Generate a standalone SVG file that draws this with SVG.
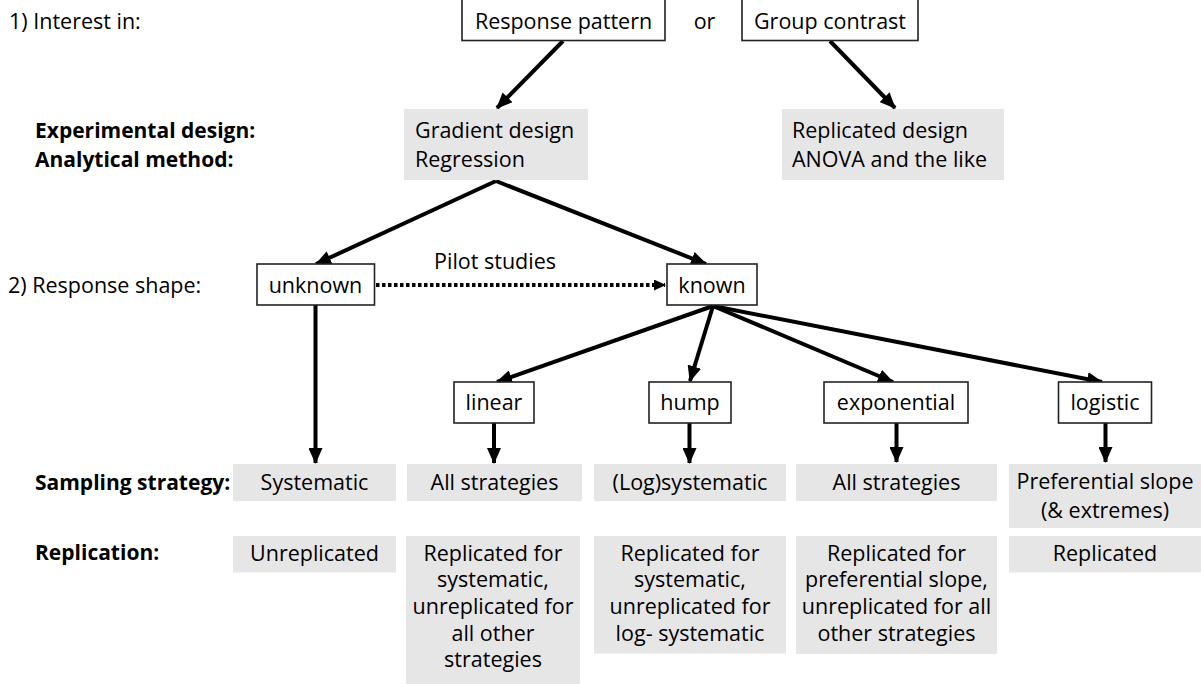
<svg xmlns="http://www.w3.org/2000/svg" width="1201" height="684" viewBox="0 0 1201 684">
<style>
text{font-family:"Open Sans","Liberation Sans",sans-serif;font-size:21.5px;fill:#000}
.b{font-weight:bold;font-size:21px}
.m{text-anchor:middle}
.box{fill:#fff;stroke:#222;stroke-width:1.6}
.g{fill:#e7e6e6}
.c{stroke:#000;stroke-width:4;fill:none;marker-end:url(#ah)}
.d{stroke:#000;stroke-width:4;fill:none;stroke-dasharray:3.5 2.5;marker-end:url(#ahs)}
</style>
<defs>
<marker id="ah" markerUnits="userSpaceOnUse" markerWidth="16" markerHeight="14" refX="15" refY="7" orient="auto" viewBox="0 0 16 14">
<path d="M0,0 L16,7 L0,14 z" fill="#000"/>
</marker>
<marker id="ahs" markerUnits="userSpaceOnUse" markerWidth="12" markerHeight="11" refX="11" refY="5.5" orient="auto" viewBox="0 0 12 11">
<path d="M0,0 L12,5.5 L0,11 z" fill="#000"/>
</marker>
</defs>
<rect width="1201" height="684" fill="#fff"/>

<g id="labels">
<text x="9" y="29">1) Interest in:</text>
<text x="35" y="138" class="b">Experimental design:</text>
<text x="35" y="167" class="b">Analytical method:</text>
<text x="8" y="293">2) Response shape:</text>
<text x="35" y="490" class="b">Sampling strategy:</text>
<text x="35" y="560" class="b">Replication:</text>
<text x="704.5" y="29" class="m">or</text>
<text x="495" y="269" class="m">Pilot studies</text>
</g>

<g id="connectors">
<line class="c" x1="563" y1="41" x2="497" y2="108"/>
<line class="c" x1="830" y1="41" x2="895" y2="108"/>
<line class="c" x1="496" y1="181" x2="316" y2="264"/>
<line class="c" x1="496" y1="181" x2="706" y2="264"/>
<line class="d" x1="376" y1="285" x2="665" y2="285"/>
<line class="c" x1="315.5" y1="305" x2="315.5" y2="463"/>
<line class="c" x1="713" y1="306" x2="497" y2="382"/>
<line class="c" x1="713" y1="306" x2="690" y2="381"/>
<line class="c" x1="713" y1="306" x2="893" y2="382"/>
<line class="c" x1="713" y1="306" x2="1102" y2="382"/>
<line class="c" x1="494" y1="423" x2="494" y2="463"/>
<line class="c" x1="689.5" y1="423" x2="689.5" y2="463"/>
<line class="c" x1="896.5" y1="423" x2="896.5" y2="462"/>
<line class="c" x1="1105.5" y1="423" x2="1105.5" y2="462"/>
</g>

<g id="response-pattern">
<rect class="box" x="462" y="-1" width="203" height="41.5"/>
<text x="563.5" y="29" class="m">Response pattern</text>
</g>
<g id="group-contrast">
<rect class="box" x="742" y="-1" width="176" height="41.5"/>
<text x="830" y="29" class="m">Group contrast</text>
</g>
<g id="gradient-design">
<rect class="g" x="404" y="109" width="184" height="71"/>
<text x="415" y="138">Gradient design</text>
<text x="415" y="167">Regression</text>
</g>
<g id="replicated-design">
<rect class="g" x="782" y="109" width="222" height="71"/>
<text x="792" y="138">Replicated design</text>
<text x="792" y="167">ANOVA and the like</text>
</g>
<g id="unknown">
<rect class="box" x="257" y="264" width="117.5" height="41"/>
<text x="315.5" y="293" class="m">unknown</text>
</g>
<g id="known">
<rect class="box" x="667" y="264" width="90" height="41"/>
<text x="712" y="293" class="m">known</text>
</g>
<g id="linear">
<rect class="box" x="454" y="382" width="80" height="41"/>
<text x="494" y="410" class="m">linear</text>
</g>
<g id="hump">
<rect class="box" x="649" y="382" width="82" height="41"/>
<text x="690" y="410" class="m">hump</text>
</g>
<g id="exponential">
<rect class="box" x="824" y="382" width="144" height="41"/>
<text x="896" y="410" class="m">exponential</text>
</g>
<g id="logistic">
<rect class="box" x="1058.5" y="382" width="93" height="41"/>
<text x="1105" y="410" class="m">logistic</text>
</g>

<g id="s-systematic">
<rect class="g" x="233" y="464" width="163" height="37"/>
<text x="314.5" y="490" class="m">Systematic</text>
</g>
<g id="s-linear">
<rect class="g" x="407" y="464" width="175" height="37"/>
<text x="494.5" y="490" class="m">All strategies</text>
</g>
<g id="s-hump">
<rect class="g" x="594" y="464" width="192" height="37"/>
<text x="690" y="490" class="m">(Log)systematic</text>
</g>
<g id="s-exponential">
<rect class="g" x="796" y="464" width="201" height="37"/>
<text x="896.5" y="490" class="m">All strategies</text>
</g>
<g id="s-logistic">
<rect class="g" x="1009" y="464" width="192" height="64"/>
<text x="1105" y="489" class="m">Preferential slope</text>
<text x="1105" y="517.5" class="m">(&amp; extremes)</text>
</g>

<g id="r-unknown">
<rect class="g" x="233" y="536" width="163" height="36.5"/>
<text x="314.5" y="560.5" class="m">Unreplicated</text>
</g>
<g id="r-linear">
<rect class="g" x="406" y="536" width="174" height="148"/>
<text x="493" y="560.5" class="m">Replicated for</text>
<text x="493" y="587" class="m">systematic,</text>
<text x="493" y="614" class="m">unreplicated for</text>
<text x="493" y="640.5" class="m">all other</text>
<text x="493" y="667" class="m">strategies</text>
</g>
<g id="r-hump">
<rect class="g" x="594" y="536" width="192" height="117.5"/>
<text x="690" y="560.5" class="m">Replicated for</text>
<text x="690" y="587" class="m">systematic,</text>
<text x="690" y="614" class="m">unreplicated for</text>
<text x="690" y="640.5" class="m">log- systematic</text>
</g>
<g id="r-exponential">
<rect class="g" x="796" y="536" width="201" height="118"/>
<text x="896.5" y="560.5" class="m">Replicated for</text>
<text x="896.5" y="587" class="m">preferential slope,</text>
<text x="896.5" y="614" class="m">unreplicated for all</text>
<text x="896.5" y="640.5" class="m">other strategies</text>
</g>
<g id="r-logistic">
<rect class="g" x="1009" y="536" width="192" height="36.5"/>
<text x="1105" y="560.5" class="m">Replicated</text>
</g>
</svg>
